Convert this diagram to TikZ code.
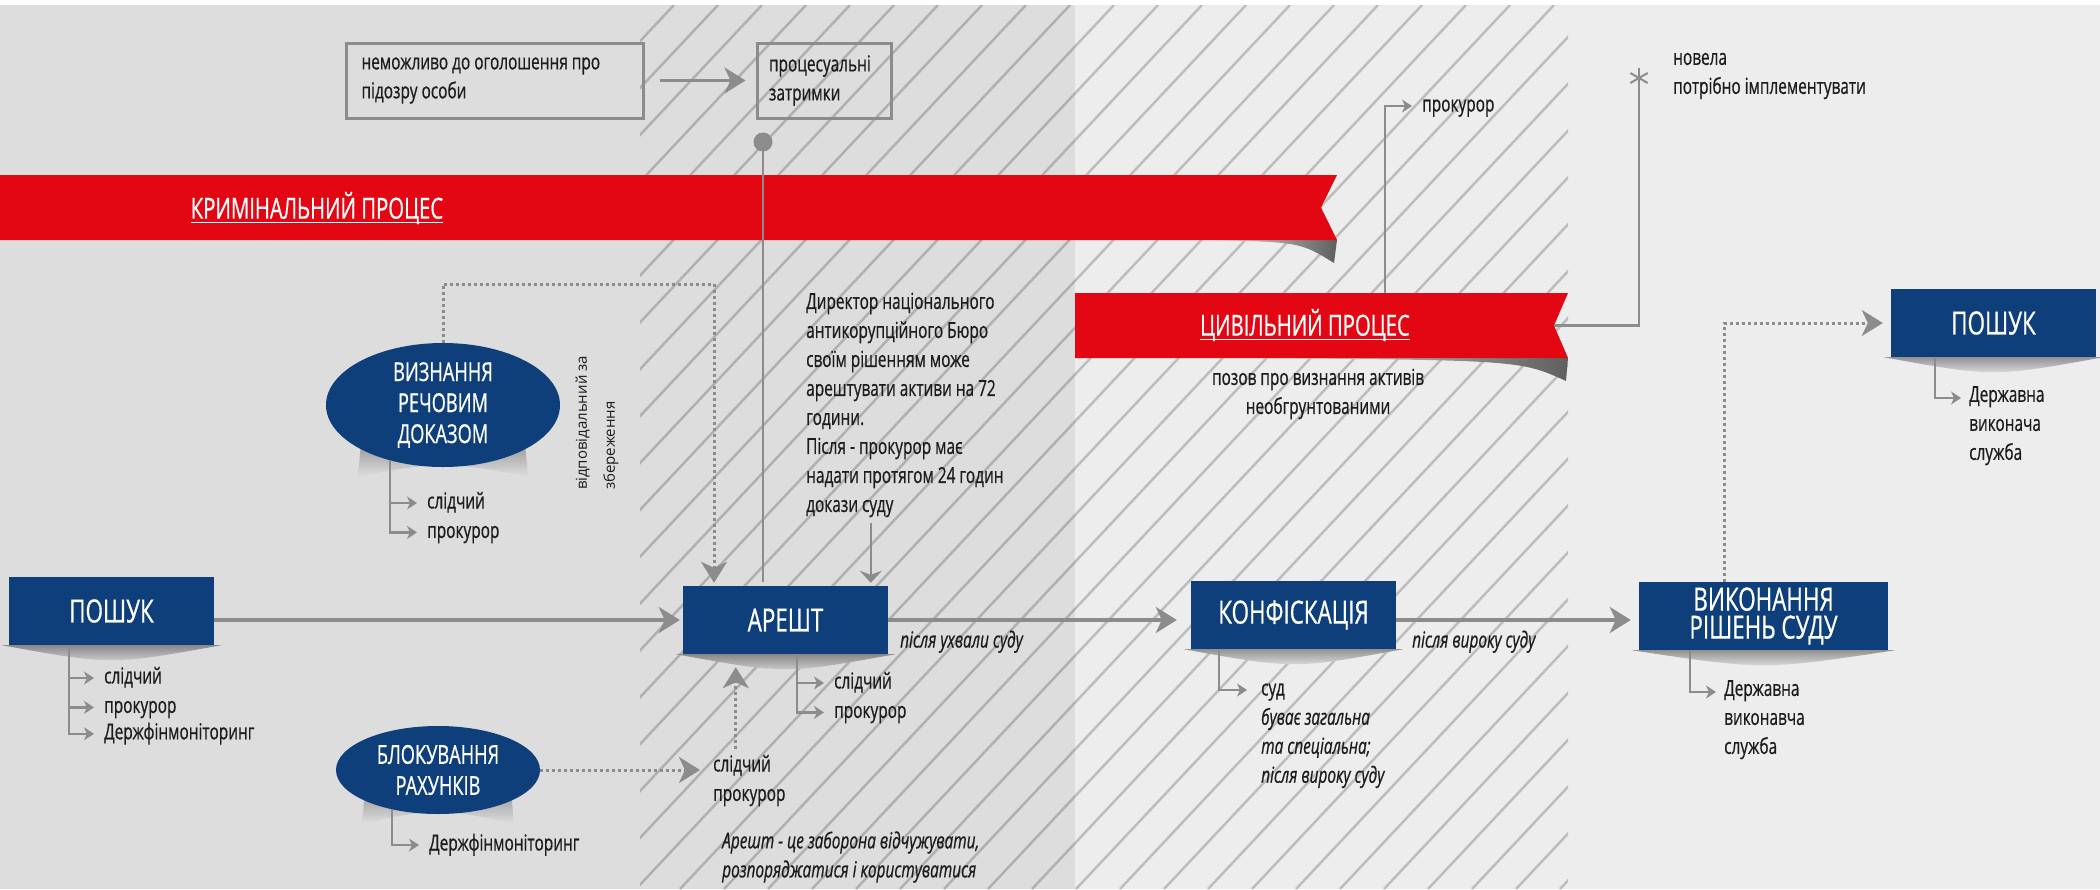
\documentclass[tikz,border=0pt]{standalone}
\usepackage{fontspec}
\setmainfont{Open Sans}[FakeStretch=0.7, FakeBold=0.6]
\newfontfamily\widesans{Open Sans}
\usetikzlibrary{shapes,shapes.geometric,arrows.meta,positioning,calc}
\definecolor{bgdark}{RGB}{220,221,220}
\definecolor{bglight}{RGB}{237,237,237}
\definecolor{navyblue}{RGB}{14,63,122}
\definecolor{ribbonred}{RGB}{227,6,19}
\definecolor{linegray}{RGB}{140,140,140}
\definecolor{labeltext}{RGB}{30,28,28}
\pgfdeclarelayer{back}
\pgfdeclarelayer{shade}
\pgfsetlayers{back,shade,main}
\newcommand{\boxshadow}[2]{\shade[top color=black!38!#2, bottom color=#2] ([xshift=-7pt]#1.south west) .. controls ([yshift=-20pt]#1.south) .. ([xshift=7pt]#1.south east) -- cycle;}
\newcommand{\ovalshadow}[3]{\shade[top color=black!32!#3, bottom color=#3] ([xshift=-#2, yshift=24pt]#1.south) -- ([xshift=-#2-3pt, yshift=-9pt]#1.south) .. controls ([yshift=6pt]#1.south) .. ([xshift=#2+3pt, yshift=-9pt]#1.south) -- ([xshift=#2, yshift=24pt]#1.south) -- cycle;}

\begin{document}
\begin{tikzpicture}[x=1pt, y=-1pt,
    titlebox/.style={rectangle, fill=navyblue, text=white, inner sep=0pt, minimum width=205pt, minimum height=68pt, font=\fontsize{32}{28}\selectfont, align=center},
    titleoval/.style={ellipse, fill=navyblue, text=white, inner sep=0pt, font=\fontsize{26}{31}\selectfont, align=center},
    notebox/.style={rectangle, draw=linegray, line width=3pt, inner sep=0pt, minimum height=75pt, text=labeltext, font=\fontsize{22}{29}\selectfont, align=flush left},
    roletext/.style={inner sep=0pt, anchor=west, text=labeltext, font=\fontsize{22}{29}\selectfont, text height=16pt, text depth=5pt},
    notetext/.style={inner sep=0pt, text=labeltext, font=\fontsize{22}{29}\selectfont, align=left},
    ribbontext/.style={inner sep=0pt, text=white, font=\fontsize{29}{34}\selectfont},
    underline/.style={draw=white, line width=1.5pt},
    mainarrow/.style={draw=linegray, line width=3.5pt, -{Stealth[length=21pt, width=26pt, inset=6pt]}},
    dotarrow/.style={draw=linegray, line width=3pt, dash pattern=on 3pt off 3pt, -{Stealth[length=21pt, width=26pt, inset=6pt]}},
    pointer/.style={draw=linegray, line width=2.5pt, -{Stealth[length=12pt, width=22pt, inset=4pt]}},
    brancharrow/.style={draw=linegray, line width=2.5pt, -{Stealth[length=10pt, width=13pt, inset=3pt]}},
    plainline/.style={draw=linegray, line width=2.5pt},
    hatchline/.style={draw=black, opacity=0.2, line width=2.5pt}
]
\useasboundingbox (0,0) rectangle (2100,889);

% Background, hatching and ribbons
\begin{pgfonlayer}{back}
\fill[white] (0,0) rectangle (2100,889);
\fill[bgdark] (0,5) rectangle (1075,889);
\fill[bglight] (1075,5) rectangle (2100,889);
\begin{scope}
  \clip (640,5) rectangle (1568,889);
  \foreach \k in {0,...,41}
    \draw[hatchline] ({-200+44*\k},889) -- ++(830,-884);
\end{scope}
\shade[left color=bglight, right color=black!60!bglight] (1205,240) .. controls (1300,242) .. (1334,263) -- (1337,240) -- cycle;
\shade[left color=bglight, right color=black!60!bglight] (1225,358) .. controls (1520,360) .. (1566,381) -- (1568,358) -- cycle;
\fill[ribbonred] (0,175) -- (1337,175) -- (1321,207.5) -- (1337,240) -- (0,240) -- cycle;
\fill[ribbonred] (1075,293) -- (1568,293) -- (1554,325.5) -- (1568,358) -- (1075,358) -- cycle;
\end{pgfonlayer}

% Notes on top
\node[notebox, minimum width=297pt, text width=266pt] (nosuspect) at (494.5,80.5) {неможливо до оголошення про\\підозру особи};
\node[notebox, minimum width=134pt, text width=110pt] (delays) at (824,80.5) {процесуальні\\затримки};
\coordinate (pin) at (763,142);
\coordinate (keepcorner) at (714,284);

% Ribbons
\node[ribbontext] (crimproc) at (317,208) {КРИМІНАЛЬНИЙ ПРОЦЕС};
\node[ribbontext] (civproc) at (1305,325) {ЦИВІЛЬНИЙ ПРОЦЕС};
\draw[underline] ([yshift=-4pt]crimproc.base west) -- ([yshift=-4pt]crimproc.base east);
\draw[underline] ([yshift=-4pt]civproc.base west) -- ([yshift=-4pt]civproc.base east);
\coordinate (civtop) at (1385,293);
\coordinate (civnotch) at (1554,325.5);
\coordinate (novelmark) at (1639,78);
\node[roletext] (civpros) at (1422,106) {прокурор};
\node[notetext, anchor=west] (novel) at (1673,76) {новела\\потрібно імплементувати};
\node[notetext, align=center] (civclaim) at (1318,394) {позов про визнання активів\\необгрунтованими};

% Stages
\node[titlebox] (poshuk1) at (111.5,611) {ПОШУК};
\node[titlebox] (arest) at (785.5,620) {АРЕШТ};
\node[titlebox] (konf) at (1293.5,615) {КОНФІСКАЦІЯ};
\node[titlebox, minimum width=249pt] (vykon) at (1763.5,616) {ВИКОНАННЯ\\РІШЕНЬ СУДУ};
\node[titlebox] (poshuk2) at (1993.5,323) {ПОШУК};
\node[titleoval, minimum width=234pt, minimum height=124pt] (vyzn) at (443,405) {ВИЗНАННЯ\\РЕЧОВИМ\\ДОКАЗОМ};
\node[titleoval, minimum width=204pt, minimum height=88pt] (blok) at (438,770) {БЛОКУВАННЯ\\РАХУНКІВ};

% Texts
\node[rotate=90, inner sep=0pt, text=labeltext, font=\widesans\fontsize{15}{28}\selectfont, align=left] (custody) at (597,423) {відповідальний за\\збереження};
\node[notetext, anchor=west] (director) at (806,405) {Директор національного\\антикорупційного Бюро\\своїм рішенням може\\арештувати активи на 72\\години.\\Після - прокурор має\\надати протягом 24 годин\\докази суду};
\node[roletext, font=\fontsize{22}{29}\selectfont\itshape] (afterruling) at (900,642) {після ухвали суду};
\node[roletext, font=\fontsize{22}{29}\selectfont\itshape] (afterverdict) at (1412,642) {після вироку суду};
\node[notetext, anchor=west, font=\fontsize{22}{29}\selectfont\itshape] (arestnote) at (722,857) {Арешт - це заборона відчужувати,\\розпоряджатися і користуватися};

% Roles
\node[roletext] (p1inv) at (104,678) {слідчий};
\node[roletext, below=8pt of p1inv.south west, anchor=north west] (p1pros) {прокурор};
\node[roletext, below=5pt of p1pros.south west, anchor=north west] (p1fin) {Держфінмоніторинг};
\node[roletext] (vzinv) at (427,503) {слідчий};
\node[roletext, below=8pt of vzinv.south west, anchor=north west] (vzpros) {прокурор};
\node[roletext] (arinv) at (834,683) {слідчий};
\node[roletext, below=8pt of arinv.south west, anchor=north west] (arpros) {прокурор};
\node[roletext] (blinv) at (713,766) {слідчий};
\node[roletext, below=8pt of blinv.south west, anchor=north west] (blpros) {прокурор};
\node[roletext] (blfin) at (429,845) {Держфінмоніторинг};
\node[roletext] (konfcourt) at (1261,690) {суд};
\node[notetext, below=7pt of konfcourt.south west, anchor=north west, font=\fontsize{22}{29}\selectfont\itshape] (konfnote) {буває загальна\\та спеціальна;\\після вироку суду};
\node[notetext, anchor=north west] (vkservice) at (1724,680) {Державна\\виконавча\\служба};
\node[notetext, anchor=north west] (p2service) at (1969,386) {Державна\\виконача\\служба};

% Shadows
\begin{pgfonlayer}{shade}
\boxshadow{poshuk1}{bgdark}
\boxshadow{arest}{bgdark}
\boxshadow{konf}{bglight}
\boxshadow{vykon}{bglight}
\boxshadow{poshuk2}{bglight}
\ovalshadow{vyzn}{82pt}{bgdark}
\ovalshadow{blok}{73pt}{bgdark}
\end{pgfonlayer}

% Connections
\draw[mainarrow, shorten <=15pt, shorten >=10pt] (nosuspect) -- (delays);
\fill[linegray] (pin) circle (9.5pt);
\draw[plainline, shorten >=4pt] (pin) -- (pin |- arest.north);
\draw[dotarrow, shorten >=3pt] (vyzn.north) |- (keepcorner) -- (keepcorner |- arest.north);
\draw[pointer, shorten <=6pt, shorten >=3pt] ([xshift=188pt]arest.north west |- director.south) -- ([xshift=188pt]arest.north west);
\draw[mainarrow, shorten >=3pt] (poshuk1.east |- arest.west) -- (arest.west);
\draw[mainarrow, shorten >=14pt] (arest.east) -- (arest.east -| konf.west);
\draw[mainarrow, shorten >=8pt] (arest.east -| konf.east) -- (arest.east -| vykon.west);
\draw[dotarrow, shorten >=8pt] ([xshift=86pt]vykon.north west) |- (poshuk2.west);
\draw[dotarrow, shorten >=13pt] (blok.east) -- (blok.east -| blinv.west);
\draw[dotarrow, shorten <=6pt, shorten >=13pt] ([xshift=53pt]arest.south west |- blinv.north) -- ([xshift=53pt]arest.south west);
\draw[brancharrow, shorten >=10pt] (civtop) |- (civpros.west);
\draw[plainline] (civnotch) -| (novelmark);
\foreach \a in {30,90,150,210,330}
  \draw[linegray, line width=2pt] (novelmark) -- ++(\a:10pt);

% Branches
\foreach \t in {p1inv,p1pros,p1fin}
  \draw[brancharrow, shorten >=10pt] ([xshift=60pt]poshuk1.south west) |- (\t.west);
\foreach \t in {vzinv,vzpros}
  \draw[brancharrow, shorten >=10pt] ([xshift=-53pt, yshift=7pt]vyzn.south) |- (\t.west);
\foreach \t in {arinv,arpros}
  \draw[brancharrow, shorten >=10pt] ([xshift=114pt]arest.south west) |- (\t.west);
\draw[brancharrow, shorten >=10pt] ([xshift=-46pt, yshift=5pt]blok.south) |- (blfin.west);
\draw[brancharrow, shorten >=14pt] ([xshift=28pt]konf.south west) |- (konfcourt.west);
\draw[brancharrow, shorten >=8pt] ([xshift=51pt]vykon.south west) |- ([yshift=-12pt]vkservice.north west);
\draw[brancharrow, shorten >=8pt] ([xshift=44pt]poshuk2.south west) |- ([yshift=-12pt]p2service.north west);

\end{tikzpicture}
\end{document}
